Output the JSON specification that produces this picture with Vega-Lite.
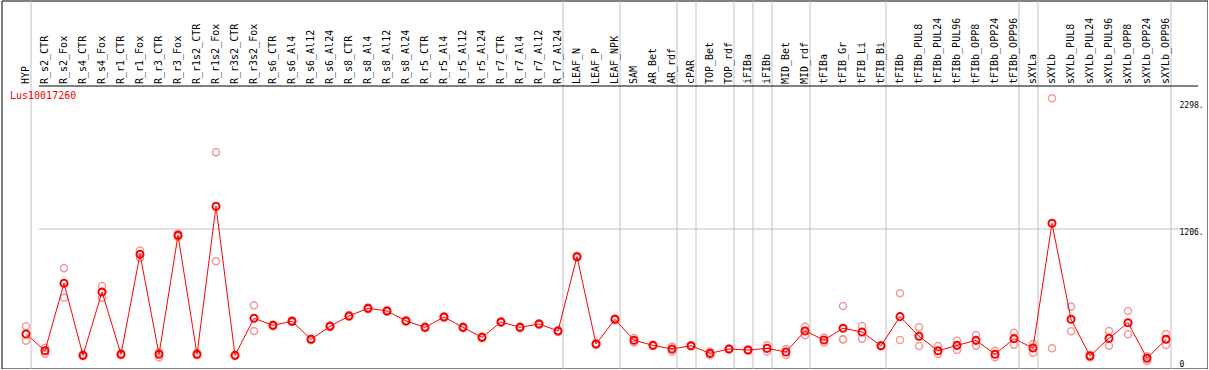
{
  "$schema": "https://vega.github.io/schema/vega-lite/v6.json",
  "width": 1206,
  "height": 368,
  "autosize": {"type": "none"},
  "padding": {"left": 1.5, "top": 0.5, "right": 0, "bottom": 0},
  "background": "white",
  "title": {"text": "Lus10017260", "anchor": "start", "frame": "group", "offset": -100, "dx": 8.5, "color": "#ff0000", "font": "DejaVu Sans Mono", "fontSize": 10, "fontWeight": "normal"},
  "data": {"values": [
    {"sample": "HYP", "kind": "mean", "value": 297}, {"sample": "HYP", "kind": "rep", "value": 363}, {"sample": "HYP", "kind": "rep", "value": 239},
    {"sample": "R_s2_CTR", "kind": "mean", "value": 153}, {"sample": "R_s2_CTR", "kind": "rep", "value": 178}, {"sample": "R_s2_CTR", "kind": "rep", "value": 128},
    {"sample": "R_s2_Fox", "kind": "mean", "value": 733}, {"sample": "R_s2_Fox", "kind": "rep", "value": 862}, {"sample": "R_s2_Fox", "kind": "rep", "value": 609},
    {"sample": "R_s4_CTR", "kind": "mean", "value": 113}, {"sample": "R_s4_CTR", "kind": "rep", "value": 120}, {"sample": "R_s4_CTR", "kind": "rep", "value": 106},
    {"sample": "R_s4_Fox", "kind": "mean", "value": 658}, {"sample": "R_s4_Fox", "kind": "rep", "value": 710}, {"sample": "R_s4_Fox", "kind": "rep", "value": 609},
    {"sample": "R_r1_CTR", "kind": "mean", "value": 122}, {"sample": "R_r1_CTR", "kind": "rep", "value": 130}, {"sample": "R_r1_CTR", "kind": "rep", "value": 114},
    {"sample": "R_r1_Fox", "kind": "mean", "value": 982}, {"sample": "R_r1_Fox", "kind": "rep", "value": 1014}, {"sample": "R_r1_Fox", "kind": "rep", "value": 950},
    {"sample": "R_r3_CTR", "kind": "mean", "value": 122}, {"sample": "R_r3_CTR", "kind": "rep", "value": 139}, {"sample": "R_r3_CTR", "kind": "rep", "value": 96},
    {"sample": "R_r3_Fox", "kind": "mean", "value": 1146}, {"sample": "R_r3_Fox", "kind": "rep", "value": 1160}, {"sample": "R_r3_Fox", "kind": "rep", "value": 1132},
    {"sample": "R_r1s2_CTR", "kind": "mean", "value": 122}, {"sample": "R_r1s2_CTR", "kind": "rep", "value": 130}, {"sample": "R_r1s2_CTR", "kind": "rep", "value": 114},
    {"sample": "R_r1s2_Fox", "kind": "mean", "value": 1395}, {"sample": "R_r1s2_Fox", "kind": "rep", "value": 1860}, {"sample": "R_r1s2_Fox", "kind": "rep", "value": 922},
    {"sample": "R_r3s2_CTR", "kind": "mean", "value": 113}, {"sample": "R_r3s2_CTR", "kind": "rep", "value": 118}, {"sample": "R_r3s2_CTR", "kind": "rep", "value": 108},
    {"sample": "R_r3s2_Fox", "kind": "mean", "value": 432}, {"sample": "R_r3s2_Fox", "kind": "rep", "value": 544}, {"sample": "R_r3s2_Fox", "kind": "rep", "value": 323},
    {"sample": "R_s6_CTR", "kind": "mean", "value": 371}, {"sample": "R_s6_CTR", "kind": "rep", "value": 378}, {"sample": "R_s6_CTR", "kind": "rep", "value": 364},
    {"sample": "R_s6_Al4", "kind": "mean", "value": 407}, {"sample": "R_s6_Al4", "kind": "rep", "value": 414}, {"sample": "R_s6_Al4", "kind": "rep", "value": 400},
    {"sample": "R_s6_Al12", "kind": "mean", "value": 251}, {"sample": "R_s6_Al12", "kind": "rep", "value": 258}, {"sample": "R_s6_Al12", "kind": "rep", "value": 244},
    {"sample": "R_s6_Al24", "kind": "mean", "value": 363}, {"sample": "R_s6_Al24", "kind": "rep", "value": 370}, {"sample": "R_s6_Al24", "kind": "rep", "value": 356},
    {"sample": "R_s8_CTR", "kind": "mean", "value": 452}, {"sample": "R_s8_CTR", "kind": "rep", "value": 459}, {"sample": "R_s8_CTR", "kind": "rep", "value": 445},
    {"sample": "R_s8_Al4", "kind": "mean", "value": 518}, {"sample": "R_s8_Al4", "kind": "rep", "value": 525}, {"sample": "R_s8_Al4", "kind": "rep", "value": 511},
    {"sample": "R_s8_Al12", "kind": "mean", "value": 495}, {"sample": "R_s8_Al12", "kind": "rep", "value": 502}, {"sample": "R_s8_Al12", "kind": "rep", "value": 488},
    {"sample": "R_s8_Al24", "kind": "mean", "value": 409}, {"sample": "R_s8_Al24", "kind": "rep", "value": 416}, {"sample": "R_s8_Al24", "kind": "rep", "value": 402},
    {"sample": "R_r5_CTR", "kind": "mean", "value": 354}, {"sample": "R_r5_CTR", "kind": "rep", "value": 361}, {"sample": "R_r5_CTR", "kind": "rep", "value": 347},
    {"sample": "R_r5_Al4", "kind": "mean", "value": 443}, {"sample": "R_r5_Al4", "kind": "rep", "value": 450}, {"sample": "R_r5_Al4", "kind": "rep", "value": 436},
    {"sample": "R_r5_Al12", "kind": "mean", "value": 354}, {"sample": "R_r5_Al12", "kind": "rep", "value": 361}, {"sample": "R_r5_Al12", "kind": "rep", "value": 347},
    {"sample": "R_r5_Al24", "kind": "mean", "value": 268}, {"sample": "R_r5_Al24", "kind": "rep", "value": 275}, {"sample": "R_r5_Al24", "kind": "rep", "value": 261},
    {"sample": "R_r7_CTR", "kind": "mean", "value": 400}, {"sample": "R_r7_CTR", "kind": "rep", "value": 407}, {"sample": "R_r7_CTR", "kind": "rep", "value": 393},
    {"sample": "R_r7_Al4", "kind": "mean", "value": 354}, {"sample": "R_r7_Al4", "kind": "rep", "value": 361}, {"sample": "R_r7_Al4", "kind": "rep", "value": 347},
    {"sample": "R_r7_Al12", "kind": "mean", "value": 383}, {"sample": "R_r7_Al12", "kind": "rep", "value": 390}, {"sample": "R_r7_Al12", "kind": "rep", "value": 376},
    {"sample": "R_r7_Al24", "kind": "mean", "value": 323}, {"sample": "R_r7_Al24", "kind": "rep", "value": 330}, {"sample": "R_r7_Al24", "kind": "rep", "value": 316},
    {"sample": "LEAF_N", "kind": "mean", "value": 962}, {"sample": "LEAF_N", "kind": "rep", "value": 969}, {"sample": "LEAF_N", "kind": "rep", "value": 955},
    {"sample": "LEAF_P", "kind": "mean", "value": 211}, {"sample": "LEAF_P", "kind": "rep", "value": 218}, {"sample": "LEAF_P", "kind": "rep", "value": 204},
    {"sample": "LEAF_NPK", "kind": "mean", "value": 423}, {"sample": "LEAF_NPK", "kind": "rep", "value": 430}, {"sample": "LEAF_NPK", "kind": "rep", "value": 416},
    {"sample": "SAM", "kind": "mean", "value": 243}, {"sample": "SAM", "kind": "rep", "value": 262}, {"sample": "SAM", "kind": "rep", "value": 224},
    {"sample": "AR_Bet", "kind": "mean", "value": 199}, {"sample": "AR_Bet", "kind": "rep", "value": 205}, {"sample": "AR_Bet", "kind": "rep", "value": 193},
    {"sample": "AR_rdf", "kind": "mean", "value": 168}, {"sample": "AR_rdf", "kind": "rep", "value": 190}, {"sample": "AR_rdf", "kind": "rep", "value": 146},
    {"sample": "cPAR", "kind": "mean", "value": 196}, {"sample": "cPAR", "kind": "rep", "value": 200}, {"sample": "cPAR", "kind": "rep", "value": 192},
    {"sample": "TOP_Bet", "kind": "mean", "value": 130}, {"sample": "TOP_Bet", "kind": "rep", "value": 145}, {"sample": "TOP_Bet", "kind": "rep", "value": 115},
    {"sample": "TOP_rdf", "kind": "mean", "value": 168}, {"sample": "TOP_rdf", "kind": "rep", "value": 172}, {"sample": "TOP_rdf", "kind": "rep", "value": 164},
    {"sample": "iFIBa", "kind": "mean", "value": 159}, {"sample": "iFIBa", "kind": "rep", "value": 163}, {"sample": "iFIBa", "kind": "rep", "value": 155},
    {"sample": "iFIBb", "kind": "mean", "value": 173}, {"sample": "iFIBb", "kind": "rep", "value": 200}, {"sample": "iFIBb", "kind": "rep", "value": 146},
    {"sample": "MID_Bet", "kind": "mean", "value": 142}, {"sample": "MID_Bet", "kind": "rep", "value": 168}, {"sample": "MID_Bet", "kind": "rep", "value": 116},
    {"sample": "MID_rdf", "kind": "mean", "value": 323}, {"sample": "MID_rdf", "kind": "rep", "value": 360}, {"sample": "MID_rdf", "kind": "rep", "value": 286},
    {"sample": "tFIBa", "kind": "mean", "value": 245}, {"sample": "tFIBa", "kind": "rep", "value": 266}, {"sample": "tFIBa", "kind": "rep", "value": 224},
    {"sample": "tFIB_Gr", "kind": "mean", "value": 346}, {"sample": "tFIB_Gr", "kind": "rep", "value": 538}, {"sample": "tFIB_Gr", "kind": "rep", "value": 251}, {"sample": "tFIB_Gr", "kind": "rep", "value": 249},
    {"sample": "tFIB_Li", "kind": "mean", "value": 314}, {"sample": "tFIB_Li", "kind": "rep", "value": 366}, {"sample": "tFIB_Li", "kind": "rep", "value": 257},
    {"sample": "tFIB_Bi", "kind": "mean", "value": 196}, {"sample": "tFIB_Bi", "kind": "rep", "value": 200}, {"sample": "tFIB_Bi", "kind": "rep", "value": 192},
    {"sample": "tFIBb", "kind": "mean", "value": 446}, {"sample": "tFIBb", "kind": "rep", "value": 647}, {"sample": "tFIBb", "kind": "rep", "value": 245},
    {"sample": "tFIBb_PUL8", "kind": "mean", "value": 277}, {"sample": "tFIBb_PUL8", "kind": "rep", "value": 354}, {"sample": "tFIBb_PUL8", "kind": "rep", "value": 194},
    {"sample": "tFIBb_PUL24", "kind": "mean", "value": 153}, {"sample": "tFIBb_PUL24", "kind": "rep", "value": 194}, {"sample": "tFIBb_PUL24", "kind": "rep", "value": 125},
    {"sample": "tFIBb_PUL96", "kind": "mean", "value": 199}, {"sample": "tFIBb_PUL96", "kind": "rep", "value": 239}, {"sample": "tFIBb_PUL96", "kind": "rep", "value": 159},
    {"sample": "tFIBb_OPP8", "kind": "mean", "value": 242}, {"sample": "tFIBb_OPP8", "kind": "rep", "value": 288}, {"sample": "tFIBb_OPP8", "kind": "rep", "value": 196},
    {"sample": "tFIBb_OPP24", "kind": "mean", "value": 122}, {"sample": "tFIBb_OPP24", "kind": "rep", "value": 153}, {"sample": "tFIBb_OPP24", "kind": "rep", "value": 96},
    {"sample": "tFIBb_OPP96", "kind": "mean", "value": 257}, {"sample": "tFIBb_OPP96", "kind": "rep", "value": 308}, {"sample": "tFIBb_OPP96", "kind": "rep", "value": 205},
    {"sample": "sXYLa", "kind": "mean", "value": 176}, {"sample": "sXYLa", "kind": "rep", "value": 211}, {"sample": "sXYLa", "kind": "rep", "value": 136},
    {"sample": "sXYLb", "kind": "mean", "value": 1249}, {"sample": "sXYLb", "kind": "rep", "value": 2324}, {"sample": "sXYLb", "kind": "rep", "value": 174},
    {"sample": "sXYLb_PUL8", "kind": "mean", "value": 423}, {"sample": "sXYLb_PUL8", "kind": "rep", "value": 532}, {"sample": "sXYLb_PUL8", "kind": "rep", "value": 320},
    {"sample": "sXYLb_PUL24", "kind": "mean", "value": 108}, {"sample": "sXYLb_PUL24", "kind": "rep", "value": 118}, {"sample": "sXYLb_PUL24", "kind": "rep", "value": 98},
    {"sample": "sXYLb_PUL96", "kind": "mean", "value": 260}, {"sample": "sXYLb_PUL96", "kind": "rep", "value": 323}, {"sample": "sXYLb_PUL96", "kind": "rep", "value": 196},
    {"sample": "sXYLb_OPP8", "kind": "mean", "value": 394}, {"sample": "sXYLb_OPP8", "kind": "rep", "value": 495}, {"sample": "sXYLb_OPP8", "kind": "rep", "value": 294},
    {"sample": "sXYLb_OPP24", "kind": "mean", "value": 88}, {"sample": "sXYLb_OPP24", "kind": "rep", "value": 105}, {"sample": "sXYLb_OPP24", "kind": "rep", "value": 65},
    {"sample": "sXYLb_OPP96", "kind": "mean", "value": 251}, {"sample": "sXYLb_OPP96", "kind": "rep", "value": 297}, {"sample": "sXYLb_OPP96", "kind": "rep", "value": 202}
  ]},
  "encoding": {
    "x": {
      "field": "sample", "type": "nominal", "bandPosition": 0.7632,
      "scale": {"type": "band", "paddingInner": 0, "paddingOuter": 0, "range": [10, 1169],
        "domain": ["HYP","R_s2_CTR","R_s2_Fox","R_s4_CTR","R_s4_Fox","R_r1_CTR","R_r1_Fox","R_r3_CTR","R_r3_Fox","R_r1s2_CTR","R_r1s2_Fox","R_r3s2_CTR","R_r3s2_Fox","R_s6_CTR","R_s6_Al4","R_s6_Al12","R_s6_Al24","R_s8_CTR","R_s8_Al4","R_s8_Al12","R_s8_Al24","R_r5_CTR","R_r5_Al4","R_r5_Al12","R_r5_Al24","R_r7_CTR","R_r7_Al4","R_r7_Al12","R_r7_Al24","LEAF_N","LEAF_P","LEAF_NPK","SAM","AR_Bet","AR_rdf","cPAR","TOP_Bet","TOP_rdf","iFIBa","iFIBb","MID_Bet","MID_rdf","tFIBa","tFIB_Gr","tFIB_Li","tFIB_Bi","tFIBb","tFIBb_PUL8","tFIBb_PUL24","tFIBb_PUL96","tFIBb_OPP8","tFIBb_OPP24","tFIBb_OPP96","sXYLa","sXYLb","sXYLb_PUL8","sXYLb_PUL24","sXYLb_PUL96","sXYLb_OPP8","sXYLb_OPP24","sXYLb_OPP96"]},
      "axis": {
        "orient": "top", "offset": -85, "title": null,
        "labelAngle": 270, "labelFont": "DejaVu Sans Mono", "labelFontSize": 10, "labelColor": "#000000",
        "labelPadding": 2, "labelOffset": 4, "labelOverlap": false, "labelBound": false, "labelLimit": 0,
        "ticks": false, "domain": false,
        "grid": true, "tickBand": "extent", "gridColor": "#c0c0c0", "gridWidth": 1,
        "gridOpacity": {"condition": {"test": "indexof(['HYP','R_r7_Al24','LEAF_NPK','AR_rdf','cPAR','TOP_rdf','iFIBa','iFIBb','MID_rdf','tFIB_Bi','tFIBb_OPP96','sXYLa','sXYLb_OPP96'], datum.value) >= 0", "value": 1}, "value": 0}
      }
    },
    "y": {
      "field": "value", "type": "quantitative",
      "scale": {"domain": [0, 3165.6], "nice": false, "zero": true},
      "axis": {
        "orient": "right", "offset": -28.5, "title": null, "values": [0, 1206, 2298, 2434.4],
        "labelExpr": "datum.value == 0 ? '0' : (datum.value > 2400 ? '' : datum.label + '.')", "format": "d",
        "labelFont": "DejaVu Sans Mono", "labelFontSize": 8, "labelColor": "#000000",
        "labelPadding": 0, "labelFlush": false, "labelBound": false, "labelOverlap": false,
        "labelBaseline": {"condition": {"test": "datum.value === 0", "value": "bottom"}, "value": "top"},
        "ticks": false, "domain": false,
        "grid": true, "gridWidth": 1,
        "gridColor": {"condition": {"test": "datum.value > 2400", "value": "#000000"}, "value": "#c0c0c0"},
        "gridOpacity": {"condition": {"test": "datum.value === 1206 || datum.value > 2400", "value": 1}, "value": 0}
      }
    }
  },
  "layer": [
    {"transform": [{"filter": "datum.kind === 'rep'"}],
     "mark": {"type": "point", "filled": false, "shape": "circle", "size": 50, "stroke": "#f29a9a", "strokeWidth": 1.5, "opacity": 1}},
    {"transform": [{"filter": "datum.kind === 'mean'"}],
     "mark": {"type": "line", "color": "#ff0000", "strokeWidth": 1}},
    {"transform": [{"filter": "datum.kind === 'mean'"}],
     "mark": {"type": "point", "filled": false, "shape": "circle", "size": 50, "stroke": "#ff0000", "strokeWidth": 2, "opacity": 1}}
  ],
  "config": {"view": {"stroke": "#000000", "strokeWidth": 1}}
}
